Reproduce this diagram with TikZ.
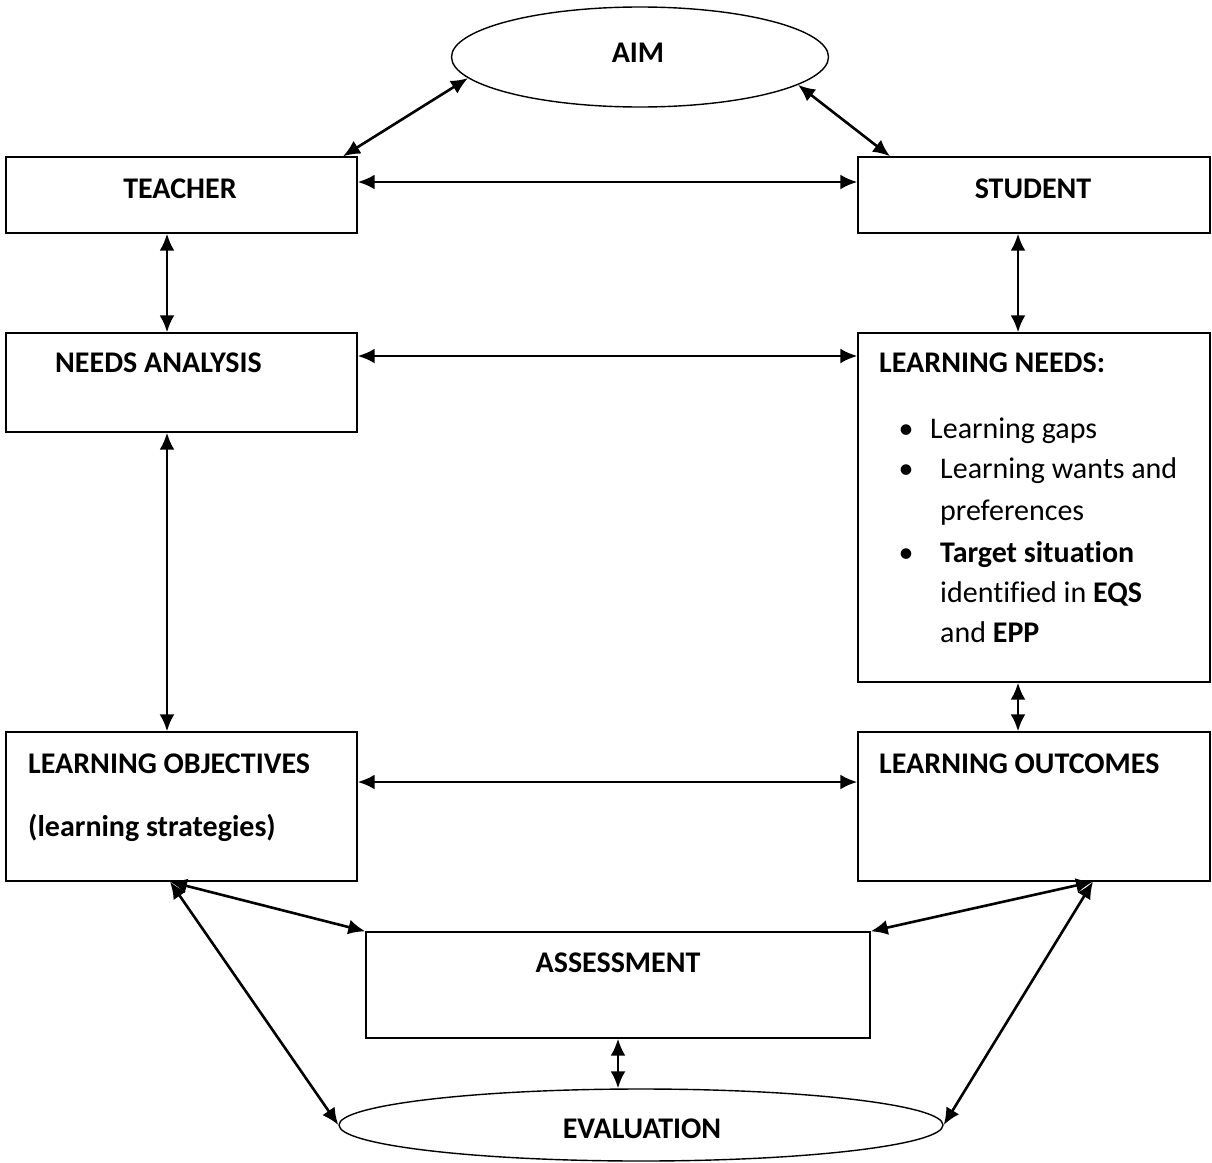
\documentclass[tikz,border=0pt]{standalone}
\usepackage{fontspec}
\setmainfont[RawFeature=-liga]{Carlito}
\usetikzlibrary{arrows.meta,shapes.geometric}
\tikzset{
  box/.style={draw, line width=1.4pt, rectangle, inner sep=0pt},
  oval/.style={draw, line width=1.4pt, ellipse, inner sep=0pt},
  dbl/.style={line width=2.6pt, {Latex[length=17pt,width=15pt]}-{Latex[length=17pt,width=15pt]}},
  lbl/.style={inner sep=0pt, font=\fontsize{30}{41}\selectfont\bfseries},
  txt/.style={inner sep=0pt, font=\fontsize{30}{41}\selectfont},
}
\begin{document}
\begin{tikzpicture}[x=1pt,y=-1pt]
\useasboundingbox (0,0) rectangle (1212,1162);
% shapes
\node[oval, minimum width=377pt, minimum height=100pt] (aim) at (640,57) {};
\node[box, minimum width=351pt, minimum height=76pt] (teacher) at (181.5,195) {};
\node[box, minimum width=352pt, minimum height=76pt] (student) at (1034,195) {};
\node[box, minimum width=351pt, minimum height=99pt] (needs) at (181.5,382.5) {};
\node[box, minimum width=352pt, minimum height=349pt] (lneeds) at (1034,507.5) {};
\node[box, minimum width=351pt, minimum height=149pt] (lobj) at (181.5,806.5) {};
\node[box, minimum width=352pt, minimum height=149pt] (lout) at (1034,806.5) {};
\node[box, minimum width=504pt, minimum height=106pt] (assess) at (618,985) {};
\node[oval, minimum width=604pt, minimum height=72pt] (eval) at (641,1125) {};
% texts
\node[lbl, anchor=base] (taim) at (638,62) {AIM};
\node[lbl, anchor=base] (tteacher) at (180,198) {TEACHER};
\node[lbl, anchor=base] (tstudent) at (1033,198) {STUDENT};
\node[lbl, anchor=base west] (tneeds) at (55,372) {NEEDS ANALYSIS};
\node[lbl, anchor=base west] (tlneeds) at (879,372) {LEARNING NEEDS:};
\node[txt, anchor=base] (b1) at (906,438) {•};
\node[txt, anchor=base] (b2) at (906,478) {•};
\node[txt, anchor=base] (b3) at (906,562) {•};
\node[txt, anchor=base west] (l1) at (930,438) {Learning gaps};
\node[txt, anchor=base west] (l2) at (940,478) {Learning wants and};
\node[txt, anchor=base west] (l3) at (940,520) {preferences};
\node[lbl, anchor=base west] (l4) at (940,562) {Target situation};
\node[txt, anchor=base west] (l5) at (940,602) {identified in \textbf{EQS}};
\node[txt, anchor=base west] (l6) at (940,642) {and \textbf{EPP}};
\node[lbl, anchor=base west] (tlobj) at (28,773) {LEARNING OBJECTIVES};
\node[lbl, anchor=base west] (tstrat) at (28,836) {(learning strategies)};
\node[lbl, anchor=base west] (tlout) at (879,773) {LEARNING OUTCOMES};
\node[lbl, anchor=base] (tassess) at (618,972) {ASSESSMENT};
\node[lbl, anchor=base] (teval) at (642,1138) {EVALUATION};
% connectors
\draw[dbl] ([xshift=161.5pt]teacher.north) -- (aim.187);
\draw[dbl] ([xshift=-144pt]student.north) -- (aim.-10);
\draw[dbl] ([yshift=13pt]teacher.east) -- ([yshift=13pt]student.west);
\draw[dbl] ([xshift=-14.5pt]teacher.south) -- ([xshift=-14.5pt]needs.north);
\draw[dbl] ([xshift=-16pt]student.south) -- ([xshift=-16pt]lneeds.north);
\draw[dbl] ([yshift=26.5pt]needs.east) -- ([yshift=151.5pt]lneeds.west);
\draw[dbl] ([xshift=-14.5pt]needs.south) -- ([xshift=-14.5pt]lobj.north);
\draw[dbl] ([xshift=-16pt]lneeds.south) -- ([xshift=-16pt]lout.north);
\draw[dbl] ([yshift=24.5pt]lobj.east) -- ([yshift=24.5pt]lout.west);
\draw[dbl] ([xshift=-11.5pt]lobj.south) -- (assess.north west);
\draw[dbl] ([xshift=59pt]lout.south) -- (assess.north east);
\draw[dbl] ([xshift=-11.5pt]lobj.south) -- (eval.west);
\draw[dbl] ([xshift=59pt]lout.south) -- (eval.east);
\draw[dbl] (assess.south) -- (assess.south |- eval.north);
\end{tikzpicture}
\end{document}
